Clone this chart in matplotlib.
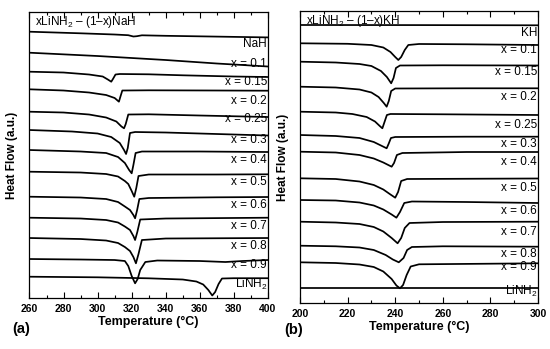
import matplotlib.pyplot as plt
from matplotlib.ticker import MultipleLocator

plt.rcParams['font.family'] = ['Liberation Sans', 'DejaVu Sans']
plt.rcParams['mathtext.fontset'] = 'custom'
plt.rcParams['mathtext.rm'] = 'Liberation Sans'

# heat flow traces in a.u. (stacked, endo down -> axis inverted)
# panel (a): xLiNH2 - (1-x)NaH
a_labels = ['NaH', 'x = 0.1', 'x = 0.15', 'x = 0.2', 'x = 0.25', 'x = 0.3', 'x = 0.4',
            'x = 0.5', 'x = 0.6', 'x = 0.7', 'x = 0.8', 'x = 0.9', 'LiNH$_2$']
a_temp = [
    [260, 290, 310, 318, 321, 323, 326, 340, 370, 400],
    [260, 300, 340, 370, 400],
    [260, 280, 295, 303, 306, 308, 309, 310.5, 313, 330, 350, 380, 400],
    [260, 280, 295, 305, 310, 312.5, 313.5, 314.5, 330, 370, 400],
    [260, 280, 295, 305, 311, 314, 315.5, 316.5, 318, 330, 360, 400],
    [260, 285, 300, 308, 313, 315.5, 316.7, 317.7, 319, 322, 340, 370, 400],
    [260, 290, 305, 312, 316, 318.5, 320, 321, 322.3, 326, 360, 400],
    [260, 290, 305, 312, 316, 318, 320, 321.5, 322.7, 324, 330, 370, 400],
    [260, 290, 305, 312, 316, 319, 321, 322, 323.2, 324.5, 330, 370, 400],
    [260, 290, 305, 312, 316, 319, 321, 322, 323.3, 325, 340, 400],
    [260, 290, 305, 312, 316, 319, 321, 322.5, 324, 326, 340, 400],
    [260, 290, 310, 316, 318, 320, 322, 323.5, 325, 328, 335, 360, 375, 385, 400],
    [260, 300, 330, 350, 358, 362, 365, 367.3, 369, 371, 373, 380, 400],
]
a_flow = [
    [31.7, 33.3, 34.5, 35.2, 36.5, 36.2, 35.3, 35.8, 36.6, 37.4],
    [52.7, 56.0, 60.0, 63.5, 66.5],
    [71.7, 72.5, 74.5, 76.5, 79.5, 81.7, 79.0, 74.5, 74.0, 74.3, 75.3, 76.5, 77.0],
    [89.3, 90.5, 92.5, 95.0, 98.0, 101.7, 96.0, 90.5, 90.3, 90.5, 90.7],
    [111.7, 112.5, 114.5, 117.5, 121.5, 126.5, 128.3, 124.0, 114.5, 114.3, 115.5, 117.0],
    [130.0, 131.5, 133.5, 137.0, 143.0, 150.0, 154.0, 148.0, 133.0, 132.0, 132.5, 134.0, 135.5],
    [150.0, 151.5, 153.0, 157.0, 163.0, 170.0, 173.3, 165.0, 153.0, 151.5, 151.5, 152.0],
    [171.7, 172.5, 174.0, 176.5, 181.0, 184.0, 191.0, 196.7, 188.0, 176.0, 174.5, 174.5, 174.3],
    [196.7, 197.5, 199.0, 202.0, 206.5, 210.0, 215.0, 218.3, 210.0, 199.0, 198.0, 197.3, 197.0],
    [217.7, 218.5, 220.0, 222.5, 226.5, 230.0, 236.0, 240.0, 232.0, 219.5, 218.5, 217.7],
    [238.0, 239.0, 240.5, 243.0, 247.0, 251.0, 257.0, 263.3, 254.0, 240.0, 238.5, 238.0],
    [259.0, 259.5, 260.0, 261.0, 266.0, 276.0, 283.3, 279.0, 270.0, 262.0, 260.5, 261.0, 262.0, 261.0, 260.0],
    [276.7, 277.3, 278.3, 279.5, 281.5, 284.5, 290.0, 295.5, 292.0, 284.0, 278.5, 278.2, 278.2],
]
a_label_y = [43.5, 63.5, 82.0, 100.5, 119.0, 140.0, 160.0, 182.3, 205.0, 225.5, 246.0, 264.5, 284.5]

# panel (b): xLiNH2 - (1-x)KH
b_labels = ['KH', 'x = 0.1', 'x = 0.15', 'x = 0.2', 'x = 0.25', 'x = 0.3', 'x = 0.4',
            'x = 0.5', 'x = 0.6', 'x = 0.7', 'x = 0.8', 'x = 0.9', 'LiNH$_2$']
b_temp = [
    [200, 250, 300],
    [200, 220, 230, 235, 238, 240, 241.3, 242.5, 244, 245.5, 250, 270, 300],
    [200, 215, 225, 230, 234, 236.5, 238.3, 239.3, 240.3, 242, 260, 300],
    [200, 215, 225, 230, 233, 235.2, 236.4, 237.3, 238.3, 240, 270, 300],
    [200, 215, 222, 228, 231.5, 233.5, 234.6, 235.5, 236.5, 238, 260, 300],
    [200, 215, 225, 231, 234, 236.4, 237.2, 238.2, 240, 270, 300],
    [200, 215, 225, 231, 235, 238.5, 239.5, 240.7, 243, 270, 300],
    [200, 215, 225, 231, 235, 238, 240, 241.2, 242.5, 245, 300],
    [200, 215, 225, 231, 235, 238.5, 240.5, 242, 243.8, 247, 270, 300],
    [200, 215, 225, 231, 235, 238.5, 241, 242.5, 244, 246, 260, 300],
    [200, 215, 225, 231, 236, 239, 241.5, 243.5, 245, 247, 260, 300],
    [200, 215, 225, 231, 235, 238.5, 240.5, 242, 243.3, 244.8, 246.5, 250, 300],
    [200, 250, 300],
]
b_flow = [
    [25.0, 25.1, 25.3],
    [43.3, 43.8, 45.0, 47.5, 52.0, 57.0, 60.0, 57.0, 50.0, 45.0, 44.0, 44.3, 45.0],
    [61.7, 62.5, 64.0, 66.0, 71.0, 77.0, 83.3, 78.0, 68.0, 65.5, 65.3, 65.5],
    [86.7, 87.5, 89.5, 92.5, 97.0, 103.0, 106.7, 101.0, 91.0, 88.5, 88.3, 88.3],
    [111.7, 112.5, 114.0, 117.0, 121.5, 126.0, 128.3, 122.0, 115.0, 114.0, 114.3, 115.0],
    [135.0, 136.0, 138.0, 142.0, 145.5, 148.3, 144.0, 138.0, 137.0, 136.7, 136.7],
    [151.7, 152.5, 155.0, 158.5, 162.5, 166.7, 163.0, 155.0, 153.0, 152.0, 152.0],
    [178.3, 179.0, 181.5, 185.0, 189.5, 194.5, 197.7, 192.0, 181.0, 179.0, 178.5],
    [200.0, 200.5, 202.5, 205.5, 209.5, 214.5, 217.7, 212.0, 203.0, 201.5, 202.0, 203.0],
    [221.7, 222.5, 224.0, 227.0, 231.5, 238.0, 243.3, 238.0, 228.0, 223.0, 222.0, 221.7],
    [245.7, 246.3, 247.5, 250.0, 255.0, 259.5, 262.3, 258.0, 250.0, 247.0, 246.3, 246.7],
    [262.3, 263.0, 264.5, 267.0, 271.5, 279.0, 285.5, 288.3, 285.0, 275.0, 266.5, 264.3, 263.3],
    [287.7, 287.7, 287.7],
]
b_label_y = [33.3, 50.0, 72.5, 97.0, 125.0, 144.0, 162.0, 188.3, 211.0, 231.7, 254.0, 267.0, 291.5]

fig = plt.figure(figsize=(5.5, 3.49), dpi=100)
ax_a = fig.add_axes([0.0536, 0.1461, 0.4336, 0.8195])
ax_b = fig.add_axes([0.5455, 0.1318, 0.4327, 0.8367])


def panel(ax, temps, flows, labels, label_y, xlim, ylim, title):
    for t, f in zip(temps, flows):
        ax.plot(t, f, color='black', linewidth=1.25, solid_joinstyle='round')
    for lab, y in zip(labels, label_y):
        ax.text(xlim[1] - 0.004 * (xlim[1] - xlim[0]), y, lab, ha='right', va='center',
                fontsize=8.5)
    ax.text(xlim[0] + 0.025 * (xlim[1] - xlim[0]), ylim[1] + 10, title, ha='left',
            va='center', fontsize=8.5)
    ax.set_xlim(xlim)
    ax.set_ylim(ylim)
    ax.xaxis.set_major_locator(MultipleLocator(20))
    ax.xaxis.set_minor_locator(MultipleLocator(10))
    ax.tick_params(axis='x', which='both', direction='in', top=True, labelsize=7.5, pad=4)
    ax.tick_params(axis='x', which='major', length=4, width=0.8)
    ax.tick_params(axis='x', which='minor', length=2.5, width=0.8)
    ax.set_yticks([])
    for lab in ax.get_xticklabels():
        lab.set_fontweight('bold')
    ax.set_xlabel('Temperature (\u00b0C)', fontsize=9, fontweight='bold', labelpad=2)
    ax.set_ylabel('Heat Flow (a.u.)', fontsize=8.5, fontweight='bold', labelpad=8)
    for s in ax.spines.values():
        s.set_linewidth(0.9)


panel(ax_a, a_temp, a_flow, a_labels, a_label_y, (260, 400), (298, 12),
      'xLiNH$_2$ \u2013 (1\u2013x)NaH')
panel(ax_b, b_temp, b_flow, b_labels, b_label_y, (200, 300), (303, 11),
      'xLiNH$_2$ \u2013 (1\u2013x)KH')

fig.text(12 / 550, 1 - 329 / 349, '(a)', fontsize=10.5, fontweight='bold', va='center')
fig.text(284 / 550, 1 - 330 / 349, '(b)', fontsize=10.5, fontweight='bold', va='center')

fig.savefig('out.png', dpi=100)
